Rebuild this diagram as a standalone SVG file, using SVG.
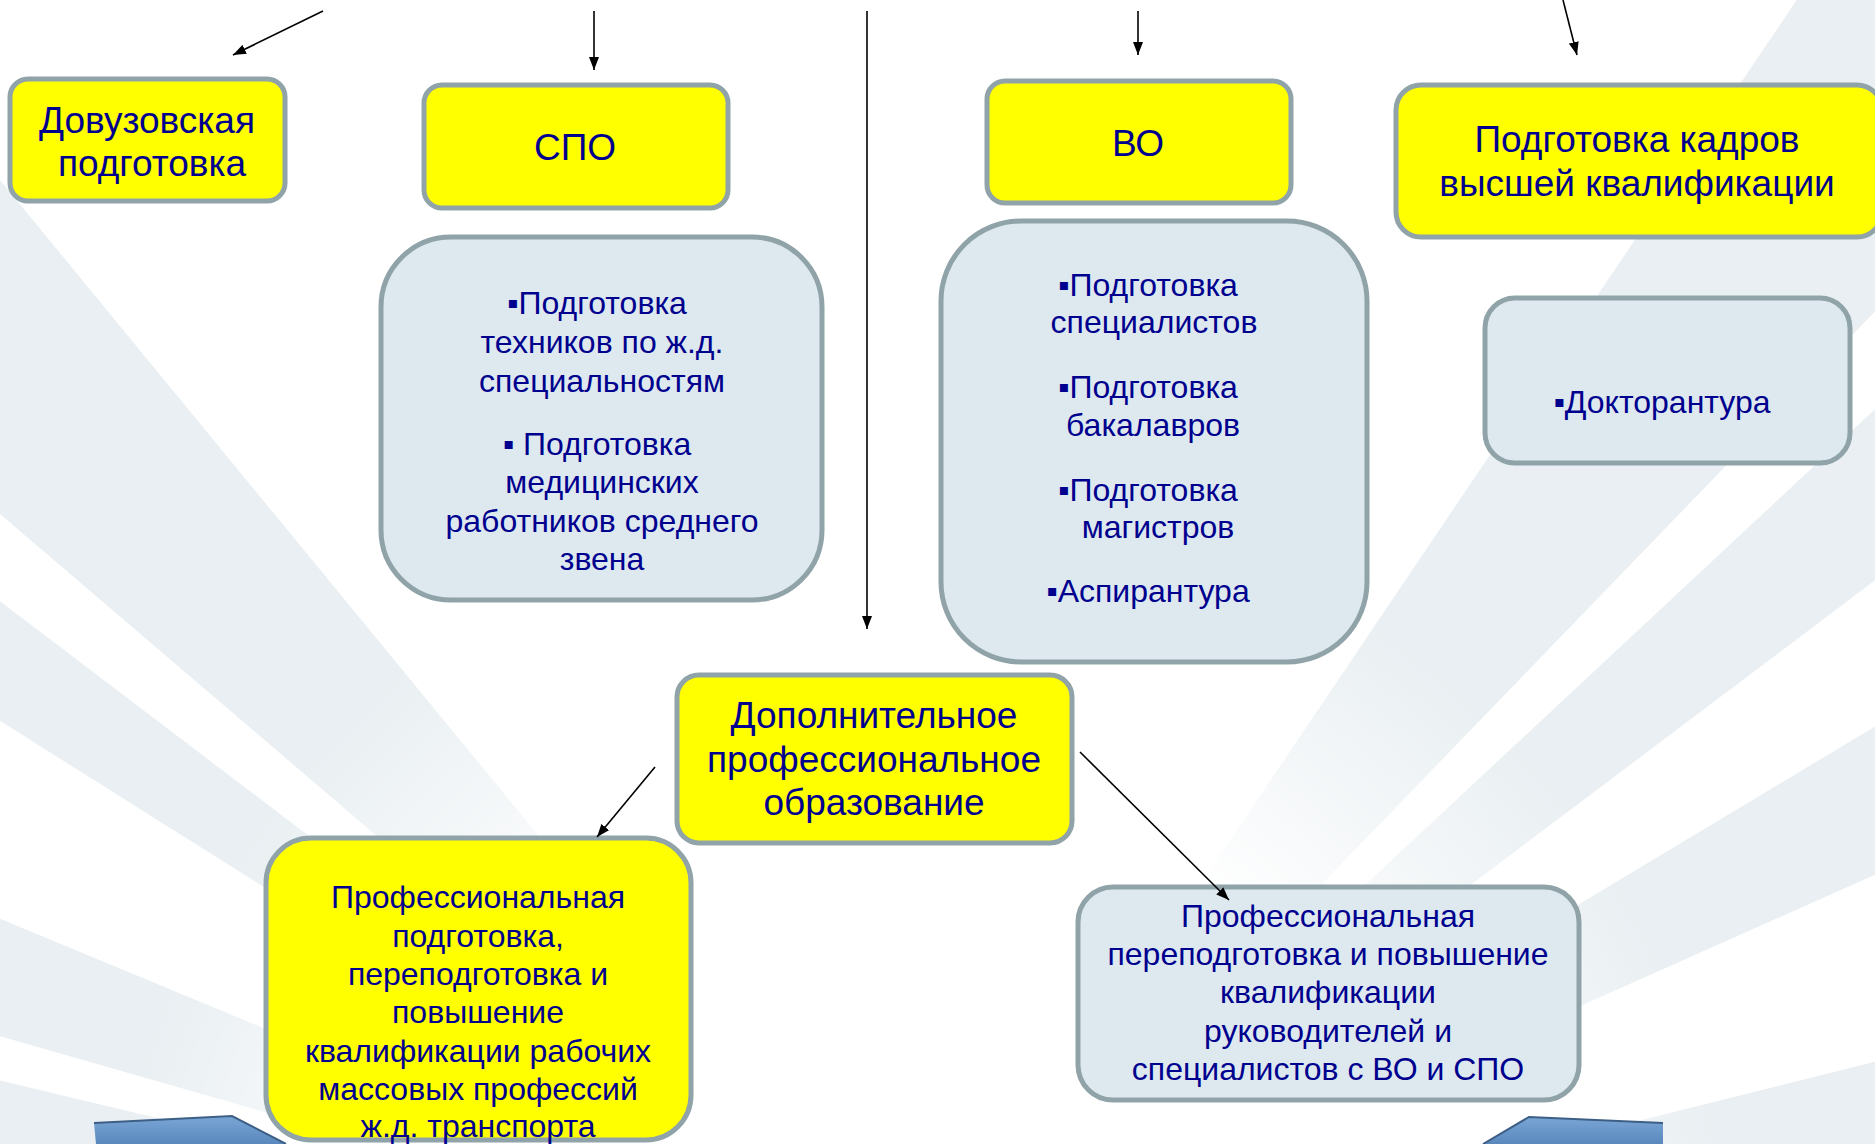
<svg xmlns="http://www.w3.org/2000/svg" width="1875" height="1144" viewBox="0 0 1875 1144">
<defs>
<style>
.ray{fill:#e9eff2;stroke:none}
.yb{fill:#ffff00;stroke:#8fa3a8;stroke-width:5}
.lb{fill:#dde9ee;stroke:#8fa3a8;stroke-width:5}
.h{font-family:"Liberation Sans",Arial,sans-serif;font-size:37px;fill:#00008f;text-anchor:middle}
.t{font-family:"Liberation Sans",Arial,sans-serif;font-size:32px;fill:#00008f;text-anchor:middle}
.c{stroke:#000;stroke-width:1.6;fill:none;marker-end:url(#ah)}
</style>
<marker id="ah" markerUnits="userSpaceOnUse" markerWidth="14" markerHeight="10" refX="13" refY="5" orient="auto">
<path d="M0,0 L13,5 L0,10 z" fill="#000"/>
</marker>
<linearGradient id="bld" x1="0" y1="0" x2="0" y2="1">
<stop offset="0" stop-color="#7aa6d6"/>
<stop offset="1" stop-color="#5a88bd"/>
</linearGradient>
<radialGradient id="fade" cx="920" cy="1300" r="820" gradientUnits="userSpaceOnUse">
<stop offset="0" stop-color="#ffffff" stop-opacity="1"/>
<stop offset="0.6" stop-color="#ffffff" stop-opacity="1"/>
<stop offset="1" stop-color="#ffffff" stop-opacity="0"/>
</radialGradient>
</defs>
<rect width="1875" height="1144" fill="#ffffff"/>
<g id="background">
<polygon class="ray" points="920,1300 -981,-324 -667,-632"/>
<polygon class="ray" points="920,1300 -1196,-32 -1071,-212"/>
<polygon class="ray" points="920,1300 -1483,611 -1390,343"/>
<polygon class="ray" points="920,1300 -1580,1300 -1512,720"/>
<polygon class="ray" points="920,1300 2318,-773 2657,-498"/>
<polygon class="ray" points="920,1300 2748,-405 2917,-205"/>
<polygon class="ray" points="920,1300 3063,13 3204,283"/>
<polygon class="ray" points="920,1300 3346,695 3396,952"/>
<rect width="1875" height="1144" fill="url(#fade)"/>
<polygon points="96,1144 94,1123 232,1116 286,1144" fill="url(#bld)"/>
<polyline points="94,1123 232,1116 286,1144" fill="none" stroke="#3d5f86" stroke-width="2"/>
<polygon points="1483,1144 1529,1117 1663,1123 1663,1144" fill="url(#bld)"/>
<polyline points="1483,1144 1529,1117 1663,1123" fill="none" stroke="#3d5f86" stroke-width="2"/>
</g>
<g id="n-dovuz">
<rect class="yb" x="10" y="79" width="275" height="122" rx="18"/>
<text class="h" x="147" y="133">Довузовская</text>
<text class="h" x="152" y="176">подготовка</text>
</g>
<g id="n-spo">
<rect class="yb" x="424" y="85" width="304" height="123" rx="18"/>
<text class="h" x="575" y="160">СПО</text>
</g>
<g id="n-vo">
<rect class="yb" x="987" y="81" width="304" height="122" rx="18"/>
<text class="h" x="1138" y="156">ВО</text>
</g>
<g id="n-kadry">
<rect class="yb" x="1396" y="85" width="486" height="152" rx="25"/>
<text class="h" x="1637" y="152">Подготовка кадров</text>
<text class="h" x="1637" y="196">высшей квалификации</text>
</g>
<g id="n-spo-list">
<rect class="lb" x="381" y="237" width="441" height="363" rx="70"/>
<text class="t" x="597" y="314">▪Подготовка</text>
<text class="t" x="602" y="353">техников по ж.д.</text>
<text class="t" x="602" y="392">специальностям</text>
<text class="t" x="597" y="455">▪ Подготовка</text>
<text class="t" x="602" y="493">медицинских</text>
<text class="t" x="602" y="532">работников среднего</text>
<text class="t" x="602" y="570">звена</text>
</g>
<g id="n-vo-list">
<rect class="lb" x="941" y="221" width="426" height="441" rx="80"/>
<text class="t" x="1148" y="296">▪Подготовка</text>
<text class="t" x="1154" y="333">специалистов</text>
<text class="t" x="1148" y="398">▪Подготовка</text>
<text class="t" x="1153" y="436">бакалавров</text>
<text class="t" x="1148" y="501">▪Подготовка</text>
<text class="t" x="1158" y="538">магистров</text>
<text class="t" x="1148" y="602">▪Аспирантура</text>
</g>
<g id="n-doct">
<rect class="lb" x="1485" y="298" width="365" height="165" rx="30"/>
<text class="t" x="1662" y="413">▪Докторантура</text>
</g>
<g id="n-dpo">
<rect class="yb" x="677" y="675" width="395" height="168" rx="22"/>
<text class="h" x="874" y="728">Дополнительное</text>
<text class="h" x="874" y="772">профессиональное</text>
<text class="h" x="874" y="815">образование</text>
</g>
<g id="n-prof-workers">
<rect class="yb" x="266" y="838" width="425" height="302" rx="45"/>
<text class="t" x="478" y="908">Профессиональная</text>
<text class="t" x="478" y="947">подготовка,</text>
<text class="t" x="478" y="985">переподготовка и</text>
<text class="t" x="478" y="1023">повышение</text>
<text class="t" x="478" y="1062">квалификации рабочих</text>
<text class="t" x="478" y="1100">массовых профессий</text>
<text class="t" x="478" y="1137">ж.д. транспорта</text>
</g>
<g id="n-prof-managers">
<rect class="lb" x="1078" y="887" width="501" height="213" rx="35"/>
<text class="t" x="1328" y="927">Профессиональная</text>
<text class="t" x="1328" y="965">переподготовка и повышение</text>
<text class="t" x="1328" y="1003">квалификации</text>
<text class="t" x="1328" y="1042">руководителей и</text>
<text class="t" x="1328" y="1080">специалистов с ВО и СПО</text>
</g>
<g id="connectors">
<line class="c" x1="323" y1="11" x2="233" y2="55"/>
<line class="c" x1="594" y1="11" x2="594" y2="70"/>
<line class="c" x1="867" y1="11" x2="867" y2="629"/>
<line class="c" x1="1138" y1="11" x2="1138" y2="55"/>
<line class="c" x1="1563" y1="0" x2="1577" y2="55"/>
<line class="c" x1="655" y1="767" x2="597" y2="837"/>
<line class="c" x1="1080" y1="752" x2="1229" y2="900"/>
</g>
</svg>
